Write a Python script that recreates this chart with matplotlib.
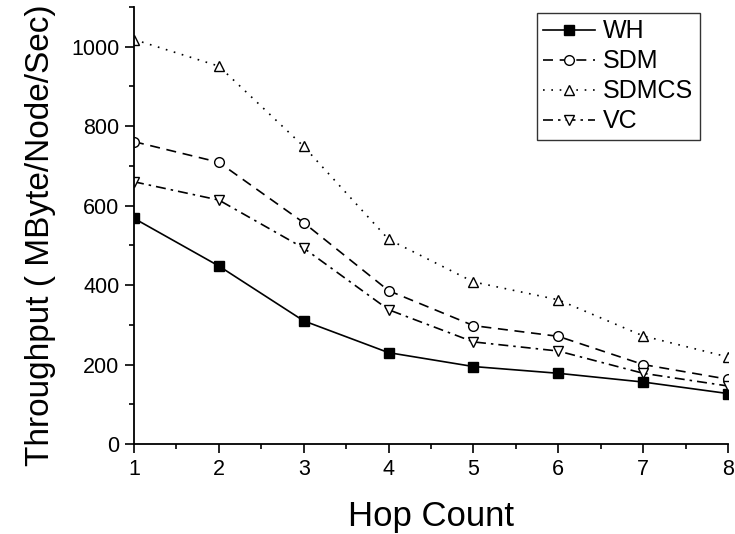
import numpy as np
import matplotlib.pyplot as plt
from matplotlib.ticker import MultipleLocator

plt.rcParams['font.family'] = ['Liberation Sans', 'DejaVu Sans']

hops = [1, 2, 3, 4, 5, 6, 7, 8]
wh = [568, 448, 310, 230, 195, 178, 156, 127]
sdm = [761, 709, 557, 386, 298, 271, 200, 163]
sdmcs = [1018, 951, 749, 515, 408, 363, 272, 219]
vc = [660, 614, 493, 338, 257, 234, 178, 146]

fig = plt.figure(figsize=(7.35, 5.34), dpi=100)
ax = fig.add_axes([0.1823, 0.1685, 0.8082, 0.8185])

ax.plot(hops, wh, 'k-', marker='s', ms=6.5, mfc='k', lw=1.2, label='WH')
ax.plot(hops, sdm, 'k', ls=(0, (6, 4)), marker='o', ms=7, mfc='white', lw=1.2, label='SDM')
ax.plot(hops, sdmcs, 'k', ls=(0, (1, 4)), marker='^', ms=7.5, mfc='white', lw=1.2, label='SDMCS')
ax.plot(hops, vc, 'k', ls=(0, (6, 3, 1.5, 3)), marker='v', ms=7.5, mfc='white', lw=1.2, label='VC')

ax.set_xlim(1, 8)
ax.set_ylim(0, 1100)
ax.yaxis.set_major_locator(MultipleLocator(200))
ax.yaxis.set_minor_locator(MultipleLocator(100))
ax.xaxis.set_major_locator(MultipleLocator(1))
ax.xaxis.set_minor_locator(MultipleLocator(0.5))
ax.tick_params(which='both', direction='out', width=1.2, labelsize=15.5, pad=4)
ax.tick_params(which='major', length=6.5)
ax.tick_params(which='minor', length=3.5)
ax.spines['top'].set_visible(False)
ax.spines['right'].set_visible(False)
for s in ['left', 'bottom']:
    ax.spines[s].set_linewidth(1.3)

ax.set_xlabel('Hop Count', fontsize=25, labelpad=15)
ax.set_ylabel('Throughput ( MByte/Node/Sec)', fontsize=24, labelpad=11)
ax.yaxis.label.set_y(0.478)

leg = ax.legend(loc='upper left', fontsize=18,
                frameon=True, fancybox=False, edgecolor='k', handlelength=2.05,
                handletextpad=0.35, borderpad=0.25, labelspacing=0.24, borderaxespad=0)
leg.set_bbox_to_anchor((537 / 735, 1 - 13 / 534), transform=fig.transFigure)
leg.get_frame().set_linewidth(1.0)

fig.savefig('out.png', dpi=100)
